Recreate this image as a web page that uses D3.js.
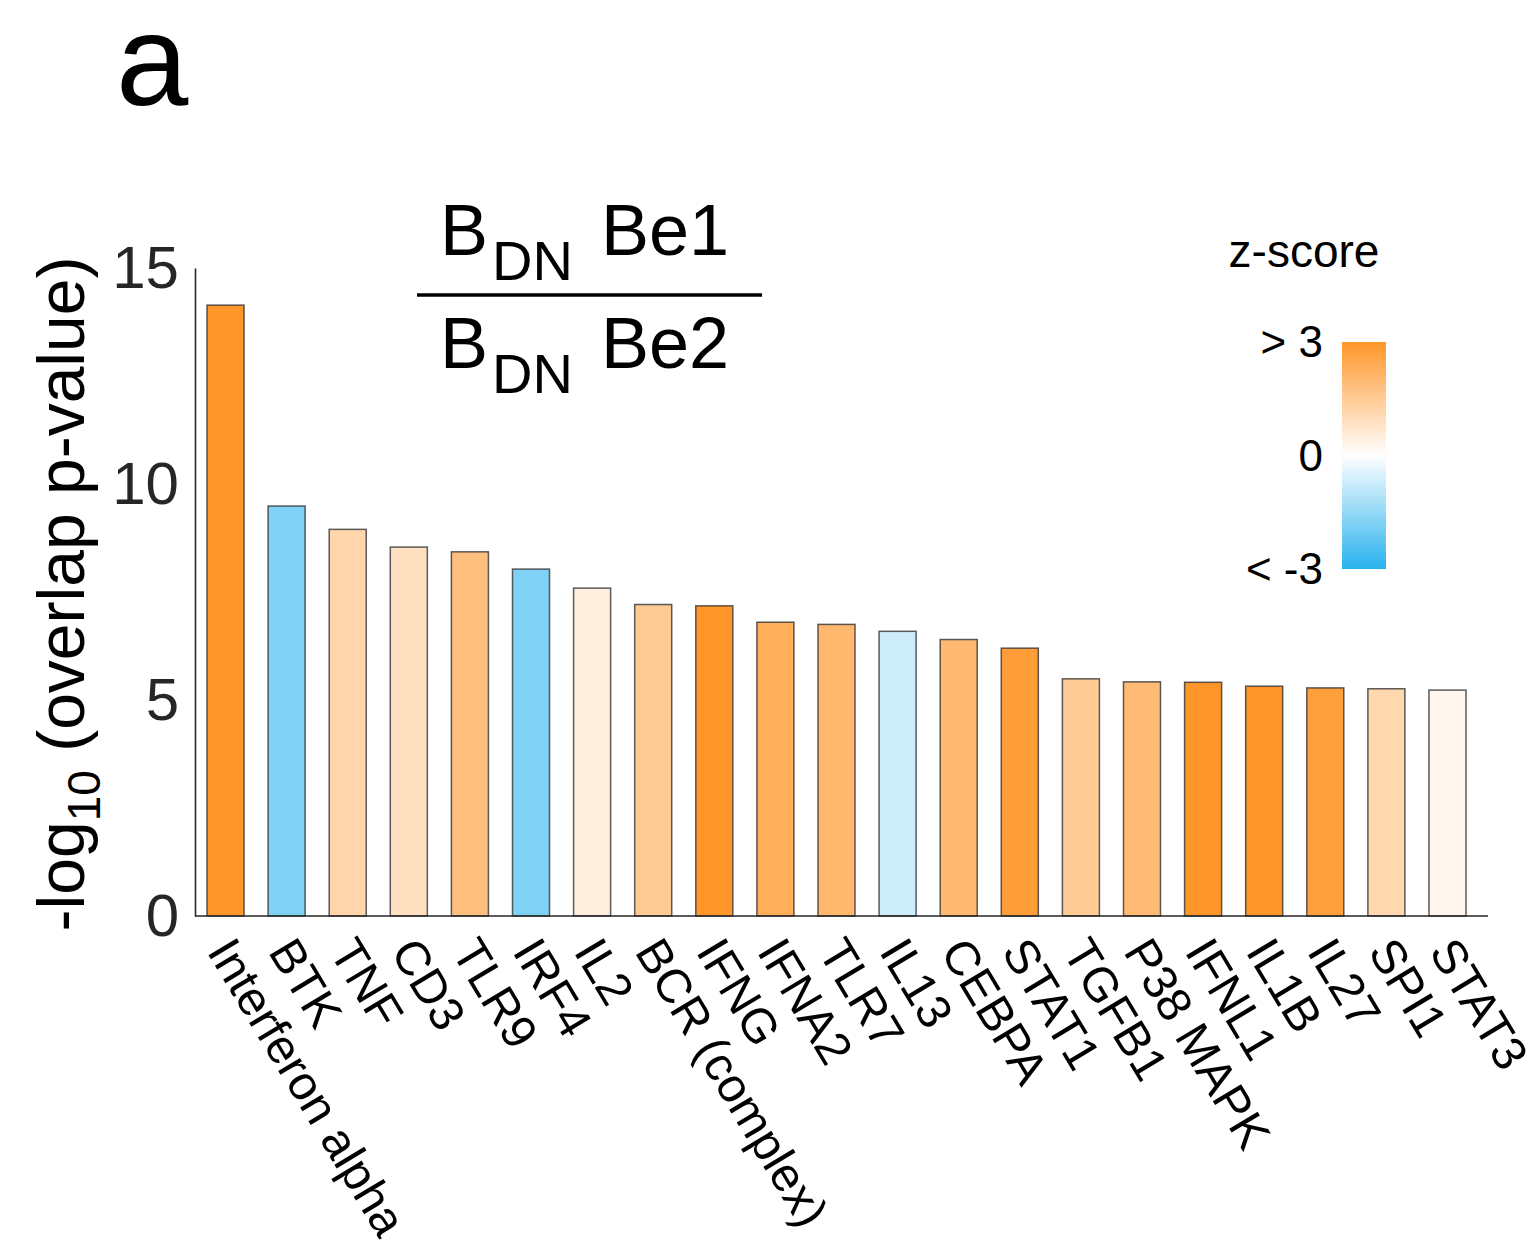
<!DOCTYPE html>
<html>
<head>
<meta charset="utf-8">
<script src="https://cdn.jsdelivr.net/npm/d3@7"></script>
<style>
  html, body { margin: 0; padding: 0; background: #fff; }
  svg text { font-family: "Liberation Sans", Arial, Helvetica, sans-serif; }
</style>
</head>
<body>
<svg id="chart" width="1540" height="1260"></svg>
<script>
// Upstream regulators, sorted by overlap significance
const regulators = ["Interferon alpha", "BTK", "TNF", "CD3", "TLR9", "IRF4", "IL2",
  "BCR (complex)", "IFNG", "IFNA2", "TLR7", "IL13", "CEBPA", "STAT1", "TGFB1",
  "P38 MAPK", "IFNL1", "IL1B", "IL27", "SPI1", "STAT3"];
// -log10(overlap p-value)
const negLogP = [14.14, 9.49, 8.95, 8.54, 8.43, 8.03, 7.59, 7.21, 7.18, 6.80, 6.75,
  6.59, 6.40, 6.20, 5.49, 5.42, 5.41, 5.32, 5.28, 5.26, 5.23];
// activation z-score
const zScores = [3.0, -1.8, 1.17, 0.86, 1.8, -1.8, 0.46, 1.49, 3.0, 2.31, 2.03,
  -0.70, 2.0, 2.77, 1.46, 1.94, 3.0, 3.0, 2.74, 1.11, 0.23];
const yTicks = [0, 5, 10, 15];
const zTickValues = [3, 0, -3];
const zTickLabels = ["> 3", "0", "< -3"];

const svg = d3.select("#chart");
const font = "'Liberation Sans', Arial, Helvetica, sans-serif";

const x = d3.scaleBand().domain(regulators).range([207, 1466])
  .paddingInner(0.394).paddingOuter(0);
const y = d3.scaleLinear().domain([0, 15]).range([916, 268]);
const color = d3.scaleLinear().domain([-3, 0, 3])
  .range(["#29b2ee", "#ffffff", "#ff9629"]).clamp(true);

// panel letter
svg.append("text").attr("x", 116).attr("y", 105)
  .attr("font-size", 130).attr("fill", "#000").text("a");

// bars
svg.append("g").selectAll("rect").data(regulators).join("rect")
  .attr("x", d => x(d))
  .attr("y", (d, i) => y(negLogP[i]))
  .attr("width", x.bandwidth())
  .attr("height", (d, i) => y(0) - y(negLogP[i]))
  .attr("fill", (d, i) => color(zScores[i]))
  .attr("stroke", "#333").attr("stroke-opacity", 0.8).attr("stroke-width", 1.5);

// y axis (line + labels, no tick marks)
const yAxis = svg.append("g").attr("transform", "translate(195,0)")
  .call(d3.axisLeft(y).tickValues(yTicks).tickSize(0).tickPadding(16).tickSizeOuter(0));
yAxis.select(".domain").attr("stroke", "#262626").attr("stroke-width", 1.6);
yAxis.selectAll("text").attr("font-size", 60).attr("fill", "#262626")
  .attr("font-family", font);

// x axis line and rotated category labels
const xAxis = svg.append("g").attr("transform", "translate(0,916)");
xAxis.append("line").attr("x1", 195).attr("x2", 1488).attr("y1", 0).attr("y2", 0)
  .attr("stroke", "#262626").attr("stroke-width", 1.6);
xAxis.selectAll("text").data(regulators).join("text")
  .attr("transform", d => `translate(${x(d) + x.bandwidth() / 2 - 5},27) rotate(59)`)
  .attr("text-anchor", "start").attr("dominant-baseline", "central")
  .attr("font-size", 48).attr("fill", "#000").text(d => d);

// y axis title
const yTitle = svg.append("text")
  .attr("transform", "translate(84,594) rotate(-90)")
  .attr("text-anchor", "middle").attr("font-size", 66).attr("fill", "#000");
yTitle.append("tspan").text("-log");
yTitle.append("tspan").attr("font-size", 46).attr("dy", 16).text("10");
yTitle.append("tspan").attr("dy", -16).text(" (overlap p-value)");

// comparison title as a fraction
function fracRow(baseY, suffix) {
  const t = svg.append("text").attr("x", 440).attr("y", baseY)
    .attr("font-size", 72).attr("fill", "#000");
  t.append("tspan").text("B");
  t.append("tspan").attr("font-size", 56).attr("dx", 4).attr("dy", 25).text("DN");
  t.append("tspan").attr("dx", 8).attr("dy", -25).text(" " + suffix);
}
fracRow(255, "Be1");
svg.append("line").attr("x1", 417).attr("x2", 762).attr("y1", 295).attr("y2", 295)
  .attr("stroke", "#000").attr("stroke-width", 3.5);
fracRow(368, "Be2");

// z-score colour bar
const zy = d3.scaleLinear().domain([3, -3]).range([342, 569]);
const defs = svg.append("defs");
const grad = defs.append("linearGradient").attr("id", "zgrad")
  .attr("x1", 0).attr("y1", 0).attr("x2", 0).attr("y2", 1);
d3.range(0, 1.0001, 0.05).forEach(t => {
  grad.append("stop").attr("offset", t).attr("stop-color", color(3 - 6 * t));
});
svg.append("rect").attr("x", 1342).attr("y", zy(3)).attr("width", 44)
  .attr("height", zy(-3) - zy(3)).attr("fill", "url(#zgrad)");
svg.append("text").attr("x", 1304).attr("y", 267).attr("text-anchor", "middle")
  .attr("font-size", 46).attr("fill", "#000").text("z-score");
svg.append("g").selectAll("text").data(zTickValues).join("text")
  .attr("x", 1323).attr("y", d => zy(d)).attr("dy", "0.35em")
  .attr("text-anchor", "end").attr("font-size", 44).attr("fill", "#000")
  .text((d, i) => zTickLabels[i]);
</script>
</body>
</html>
